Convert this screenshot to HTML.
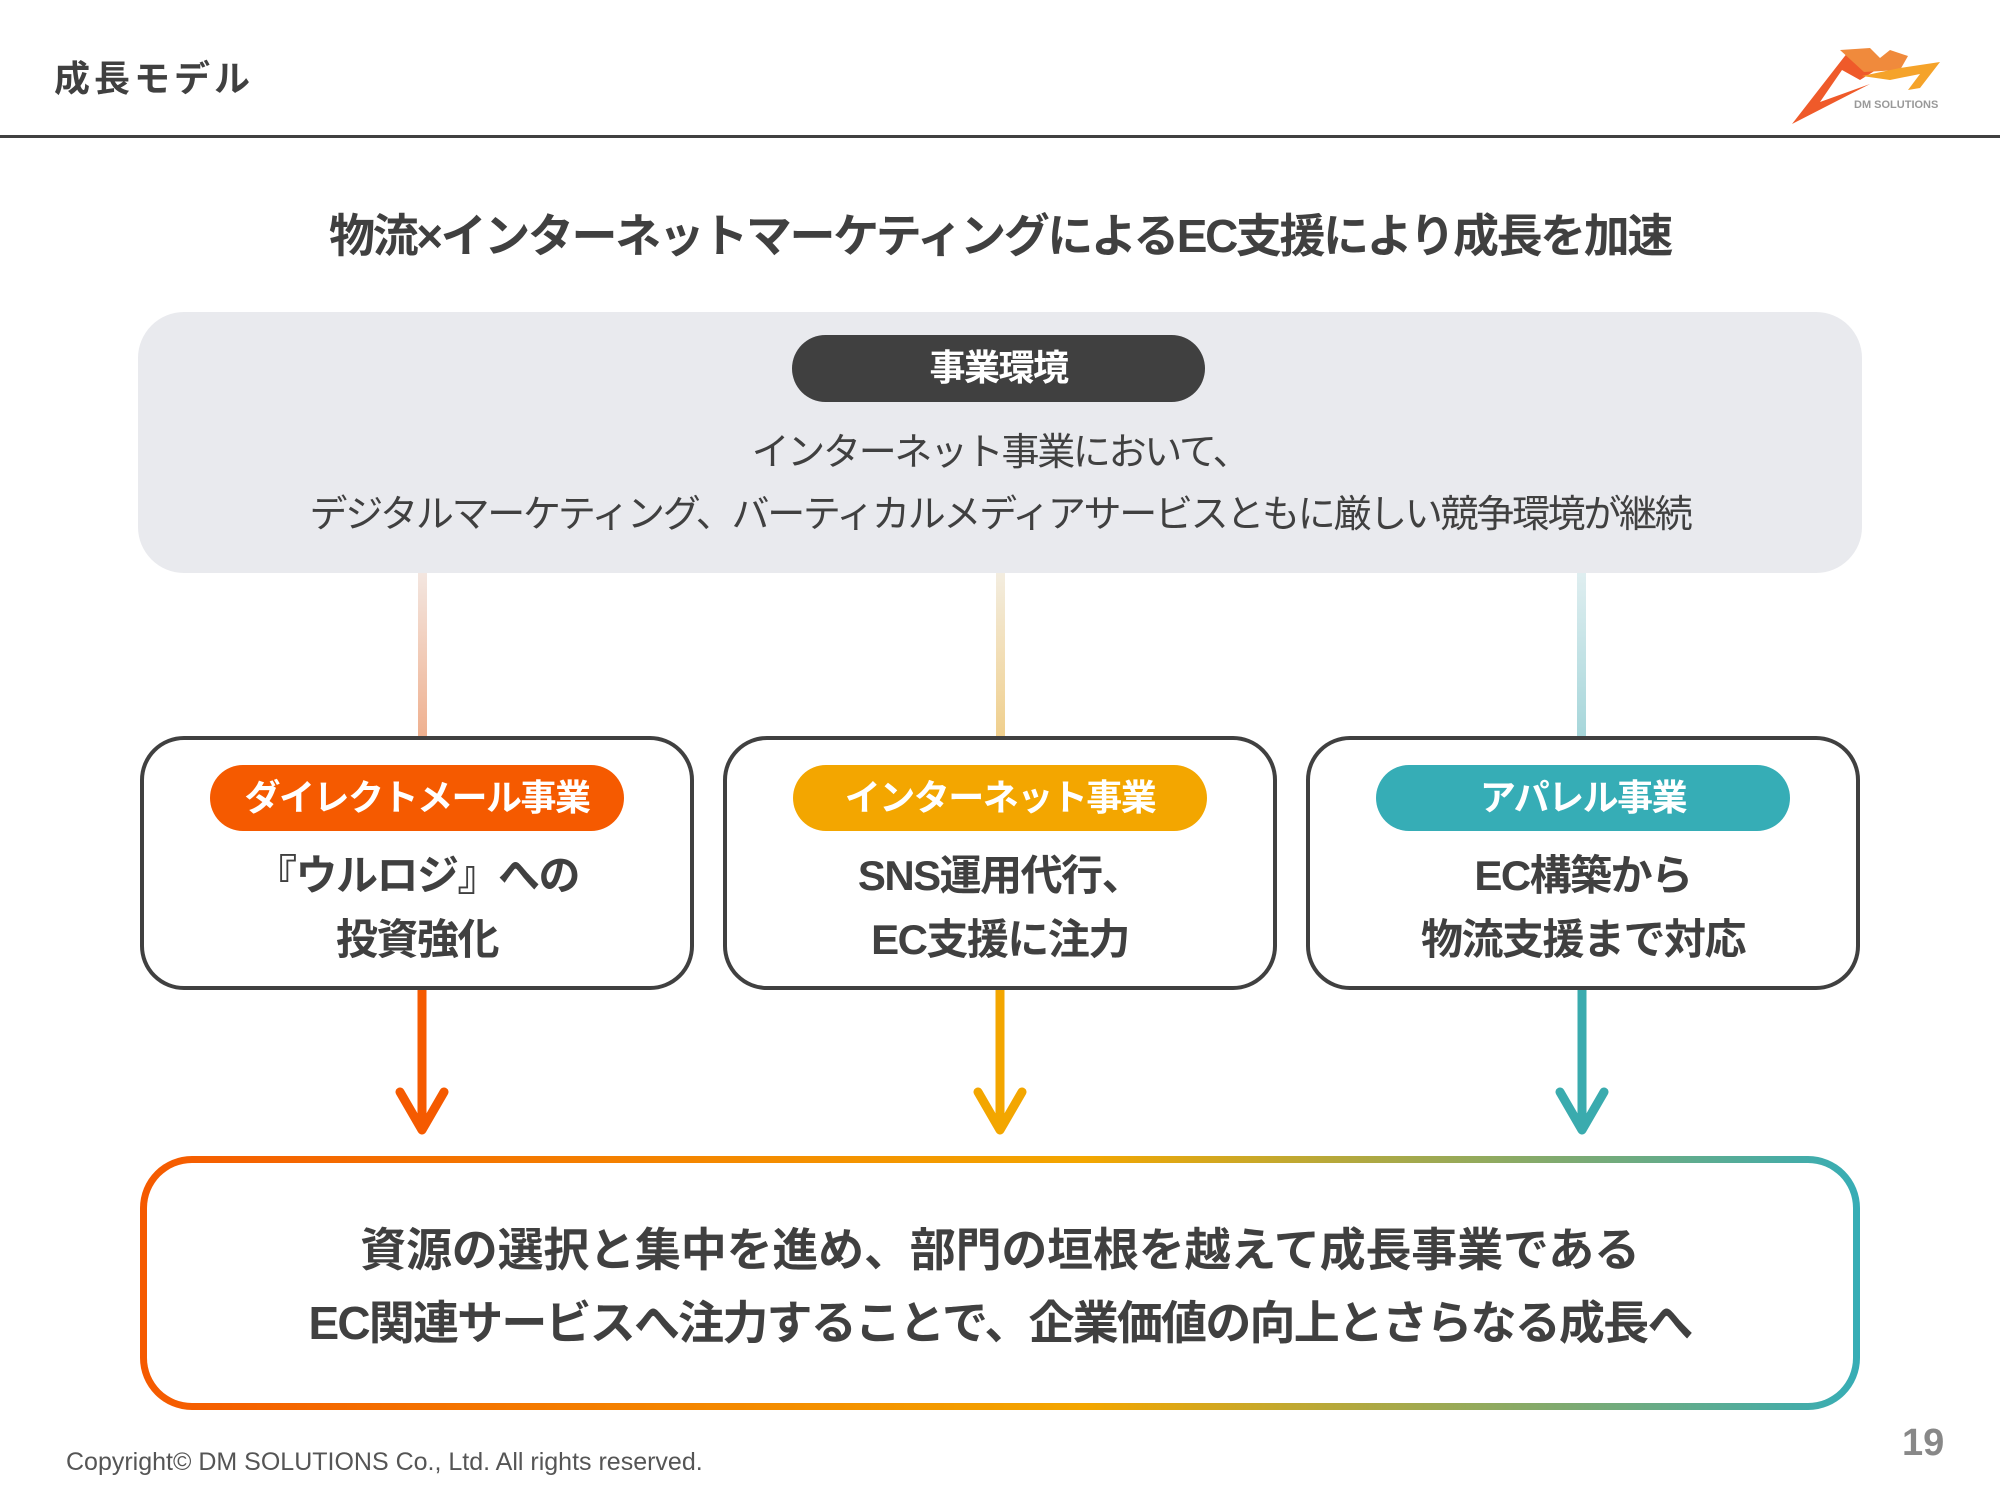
<!DOCTYPE html>
<html><head><meta charset="utf-8"><style>
body{margin:0;width:2000px;height:1500px;background:#fff;position:relative;overflow:hidden;font-family:"Liberation Sans","Noto Sans CJK JP",sans-serif;color:#404040}
.a{position:absolute}
.c{text-align:center}
.pill{position:absolute;border-radius:34px;color:#fff;font-weight:bold;font-size:36px;text-align:center;line-height:66px;letter-spacing:-1.5px}
.box{position:absolute;top:736px;height:246px;width:546px;border:4px solid #404040;border-radius:44px;background:#fff}
.bt{position:absolute;left:0;width:100%;text-align:center;font-weight:bold;font-size:42px;line-height:64px;letter-spacing:-1.5px}
</style></head><body>
<div class="a" style="left:54px;top:50px;font-size:36px;font-weight:bold;letter-spacing:4px">成長モデル</div>
<div class="a" style="left:0;top:135px;width:2000px;height:3px;background:#404040"></div>
<svg class="a" style="left:1780px;top:40px" width="180" height="90" viewBox="0 0 180 90">
<polygon points="12,84 68,12 96,30 80,40 62,30 40,62 90,44" fill="#ef5a2a"/>
<polygon points="60,10 90,8 100,18 110,10 128,16 120,30 84,32" fill="#f08a3c"/>
<polygon points="82,36 120,28 160,22 140,48 128,50 140,34 110,40" fill="#f5a32a"/>
<text x="74" y="68" font-size="11" font-weight="bold" fill="#999" font-family="Liberation Sans">DM SOLUTIONS</text>
</svg>
<div class="a c" style="left:0;width:2000px;top:206px;font-size:46px;font-weight:bold;line-height:60px;letter-spacing:-2.4px">物流×インターネットマーケティングによるEC支援により成長を加速</div>
<div class="a" style="left:138px;top:312px;width:1724px;height:261px;border-radius:46px;background:#e9eaee"></div>
<div class="pill" style="left:792px;top:335px;width:413px;height:67px;background:#404040">事業環境</div>
<div class="a c" style="left:0;width:2000px;top:422px;font-size:38px;line-height:62px;letter-spacing:-2.3px">インターネット事業において、<br>デジタルマーケティング、バーティカルメディアサービスともに厳しい競争環境が継続</div>
<div class="a" style="left:418px;top:573px;width:9px;height:164px;background:linear-gradient(#f3e6e0,#efb08f)"></div>
<div class="a" style="left:996px;top:573px;width:9px;height:164px;background:linear-gradient(#f3ede0,#f0cf8c)"></div>
<div class="a" style="left:1577px;top:573px;width:9px;height:164px;background:linear-gradient(#dfeef0,#a6d6da)"></div>
<div class="box" style="left:140px"><div class="pill" style="left:66px;top:25px;width:414px;background:#f55a00">ダイレクトメール事業</div><div class="bt" style="top:104px">『ウルロジ』への<br>投資強化</div></div>
<div class="box" style="left:723px"><div class="pill" style="left:66px;top:25px;width:414px;background:#f3a600">インターネット事業</div><div class="bt" style="top:104px">SNS運用代行、<br>EC支援に注力</div></div>
<div class="box" style="left:1306px"><div class="pill" style="left:66px;top:25px;width:414px;background:#36adb6">アパレル事業</div><div class="bt" style="top:104px">EC構築から<br>物流支援まで対応</div></div>
<svg class="a" style="left:0;top:990px" width="2000" height="150">
<g fill="none" stroke-width="9" stroke-linecap="round" stroke-linejoin="round">
<path d="M422 0V140M400 102L422 140L444 102" stroke="#f55a00"/>
<path d="M1000 0V140M978 102L1000 140L1022 102" stroke="#f3a600"/>
<path d="M1582 0V140M1560 102L1582 140L1604 102" stroke="#3aabae"/>
</g></svg>
<div class="a" style="left:140px;top:1156px;width:1720px;height:254px;border-radius:52px;padding:7px;box-sizing:border-box;background:linear-gradient(90deg,#f55a00,#f3a600 55%,#36adb6)"><div style="width:100%;height:100%;background:#fff;border-radius:45px"></div></div>
<div class="a c" style="left:0;width:2000px;top:1214px;font-size:46px;font-weight:bold;line-height:73px"><span style="letter-spacing:-0.2px">資源の選択と集中を進め、部門の垣根を越えて成長事業である</span><br><span style="letter-spacing:-1.8px">EC関連サービスへ注力することで、企業価値の向上とさらなる成長へ</span></div>
<div class="a" style="left:66px;top:1448px;font-size:25px;color:#555">Copyright© DM SOLUTIONS Co., Ltd. All rights reserved.</div>
<div class="a" style="left:1902px;top:1422px;font-size:38px;font-weight:bold;color:#888">19</div>
</body></html>
